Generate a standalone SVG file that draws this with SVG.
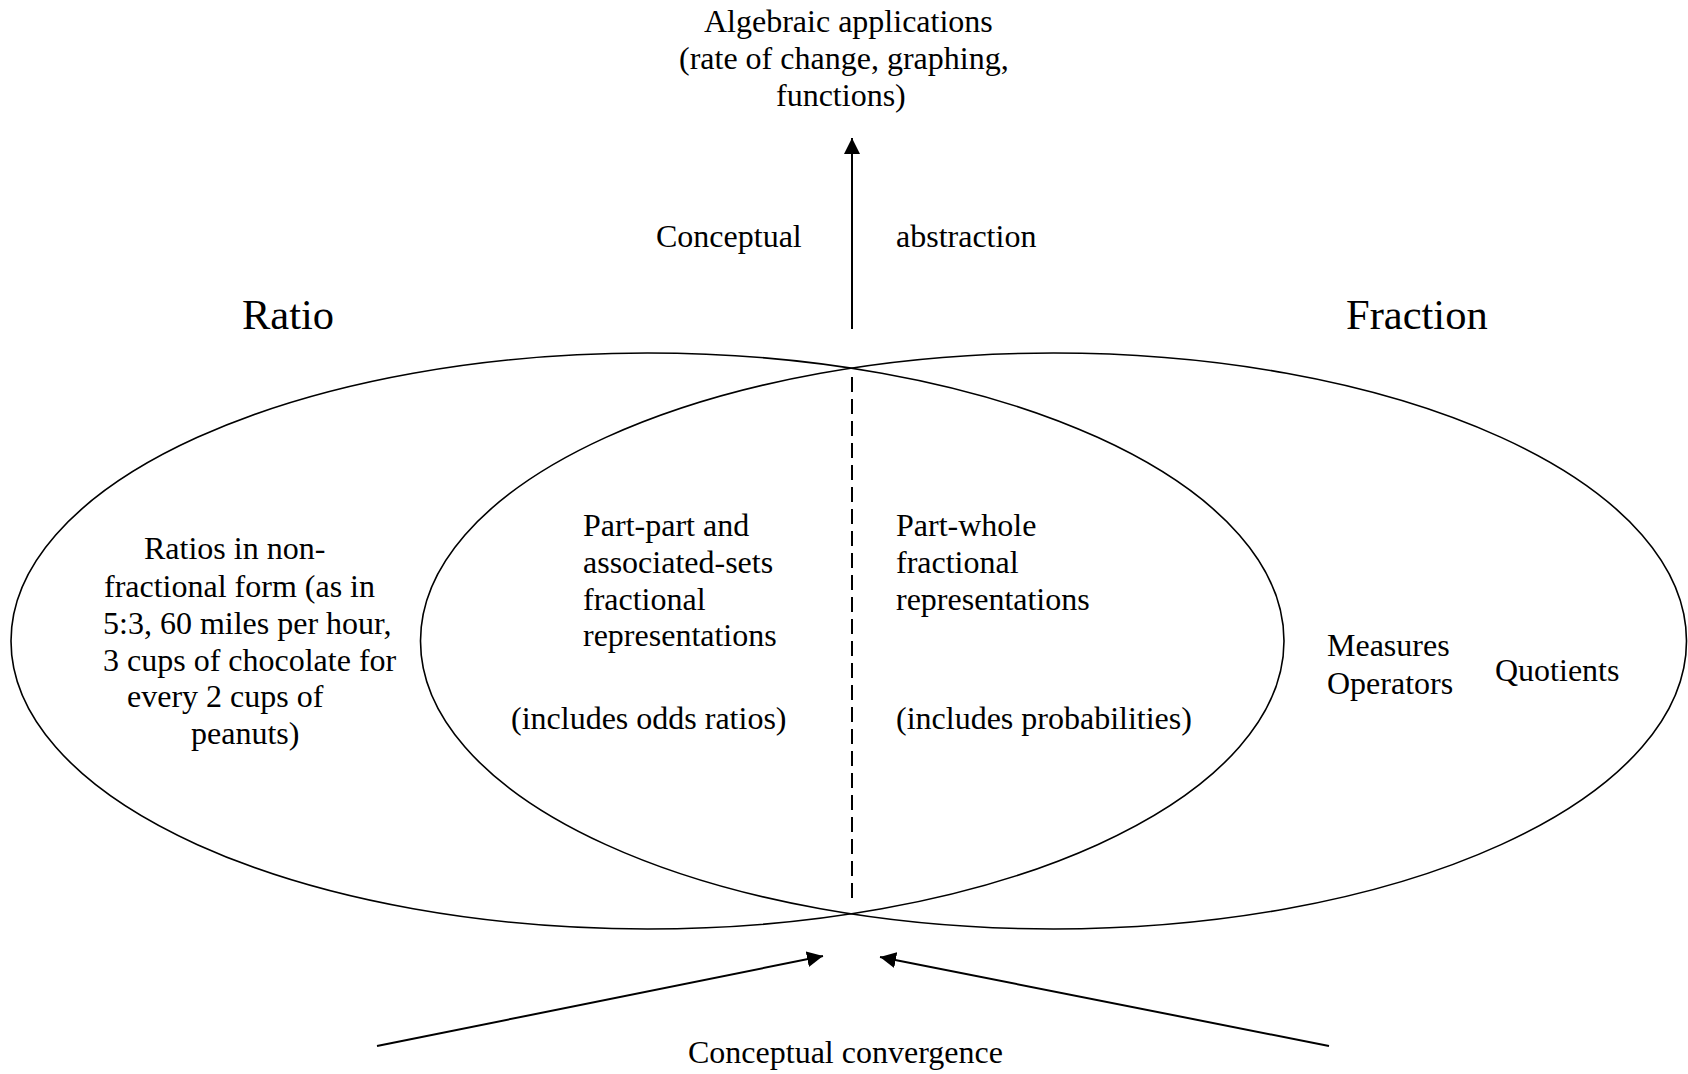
<svg xmlns="http://www.w3.org/2000/svg" width="1688" height="1074" viewBox="0 0 1688 1074">
  <style>
    text { font-family: "Liberation Serif", "Times New Roman", serif; font-size: 32px; fill: #000; }
    .title { font-size: 42.5px; }
    .ell { fill: none; stroke: #000; stroke-width: 1.6; }
    .conn { stroke: #000; stroke-width: 2; fill: none; }
  </style>
  <defs>
    <marker id="arrow" markerUnits="userSpaceOnUse" markerWidth="16" markerHeight="16" viewBox="0 0 16 16" refX="16" refY="8" orient="auto">
      <path d="M0,0 L16,8 L0,16 z" fill="#000"/>
    </marker>
  </defs>

  <g id="ratio-ellipse">
    <ellipse class="ell" cx="647.5" cy="641" rx="636.5" ry="288"/>
  </g>
  <g id="fraction-ellipse">
    <ellipse class="ell" cx="1053.5" cy="641" rx="633" ry="288"/>
  </g>

  <g id="connectors">
    <line class="conn" x1="852" y1="329" x2="852" y2="138" marker-end="url(#arrow)"/>
    <line class="conn" x1="852" y1="377" x2="852" y2="899" stroke-dasharray="15 7"/>
    <line class="conn" x1="377" y1="1046" x2="823" y2="956" marker-end="url(#arrow)"/>
    <line class="conn" x1="1329" y1="1046" x2="880" y2="957" marker-end="url(#arrow)"/>
  </g>

  <g id="algebraic">
    <text x="704" y="32">Algebraic applications</text>
    <text x="679" y="69">(rate of change, graphing,</text>
    <text x="776" y="106">functions)</text>
  </g>
  <g id="abstraction-label">
    <text x="656" y="247">Conceptual</text>
    <text x="896" y="247">abstraction</text>
  </g>
  <g id="ratio-title">
    <text class="title" x="242" y="329">Ratio</text>
  </g>
  <g id="fraction-title">
    <text class="title" x="1346" y="329">Fraction</text>
  </g>
  <g id="ratio-only">
    <text x="144" y="559">Ratios in non-</text>
    <text x="104" y="597">fractional form (as in</text>
    <text x="103" y="634">5:3, 60 miles per hour,</text>
    <text x="103" y="671">3 cups of chocolate for</text>
    <text x="127" y="707">every 2 cups of</text>
    <text x="191" y="744">peanuts)</text>
  </g>
  <g id="part-part">
    <text x="583" y="536">Part-part and</text>
    <text x="583" y="573">associated-sets</text>
    <text x="583" y="610">fractional</text>
    <text x="583" y="646">representations</text>
    <text x="511" y="729">(includes odds ratios)</text>
  </g>
  <g id="part-whole">
    <text x="896" y="536">Part-whole</text>
    <text x="896" y="573">fractional</text>
    <text x="896" y="610">representations</text>
    <text x="896" y="729">(includes probabilities)</text>
  </g>
  <g id="fraction-only">
    <text x="1327" y="656">Measures</text>
    <text x="1327" y="694">Operators</text>
    <text x="1495" y="681">Quotients</text>
  </g>
  <g id="convergence-label">
    <text x="688" y="1063">Conceptual convergence</text>
  </g>
</svg>
